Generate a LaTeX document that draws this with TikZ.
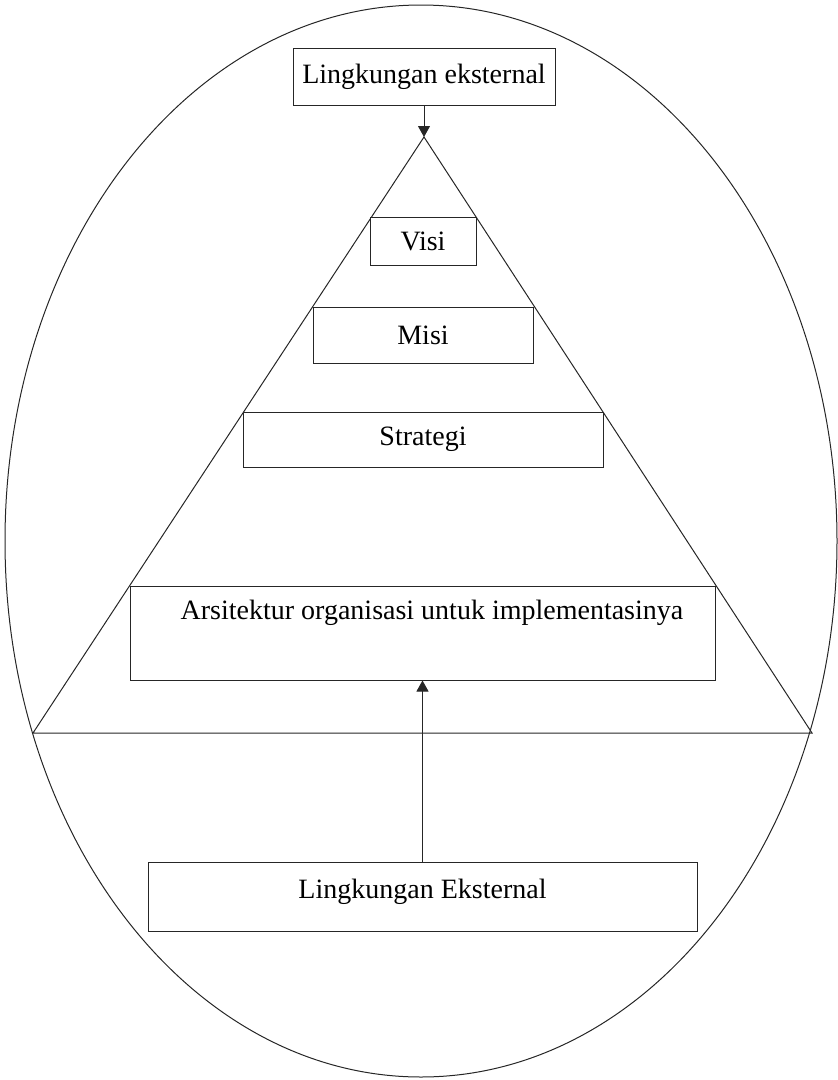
\documentclass[tikz,border=0pt]{standalone}
\usepackage{fontspec}
\setmainfont{Liberation Serif}
\usetikzlibrary{arrows.meta}
\begin{document}
\begin{tikzpicture}[x=1pt,y=-1pt,
  line/.style={draw=black!85,line width=1pt},
  box/.style={line,rectangle,inner sep=0pt,anchor=center,fill=white},
  txt/.style={font=\fontsize{28}{33}\selectfont,inner sep=0pt,anchor=center},
  tip/.style={-{Triangle[length=11pt,width=12pt]}}]
\useasboundingbox (0,0) rectangle (838,1080);
% outer ellipse
\draw[line] (421,541) ellipse [x radius=416pt, y radius=536pt];
% pyramid and its base line
\coordinate (apex) at (424,137);
\coordinate (bl) at (33,733);
\coordinate (br) at (812,733);
\draw[line] (bl) -- (apex) -- (br) -- cycle;
% levels of the pyramid
\node[box,minimum width=106pt,minimum height=48pt] (visi) at (423,241) {};
\node[txt] at (visi.center) {Visi};
\node[box,minimum width=220pt,minimum height=56pt] (misi) at (423,335) {};
\node[txt] at (misi.center) {Misi};
\node[box,minimum width=360pt,minimum height=55pt] (strat) at (423,439.5) {};
\node[txt] at (strat.center) {Strategi};
\node[box,minimum width=585pt,minimum height=94pt] (arch) at (422.5,633) {};
\node[txt] (archtext) at (432,613) {Arsitektur organisasi untuk implementasinya};
% environment boxes
\node[box,minimum width=262pt,minimum height=57pt] (envtop) at (424,77) {};
\node[txt] at (envtop.center) {Lingkungan eksternal};
\node[box,minimum width=549pt,minimum height=69pt] (envbot) at (422.5,896.5) {};
\node[txt] at (422.5,892) {Lingkungan Eksternal};
% connectors
\draw[line,tip] (envtop.south) -- (apex);
\draw[line,tip] (envbot.north) -- (arch.south);
\end{tikzpicture}
\end{document}
